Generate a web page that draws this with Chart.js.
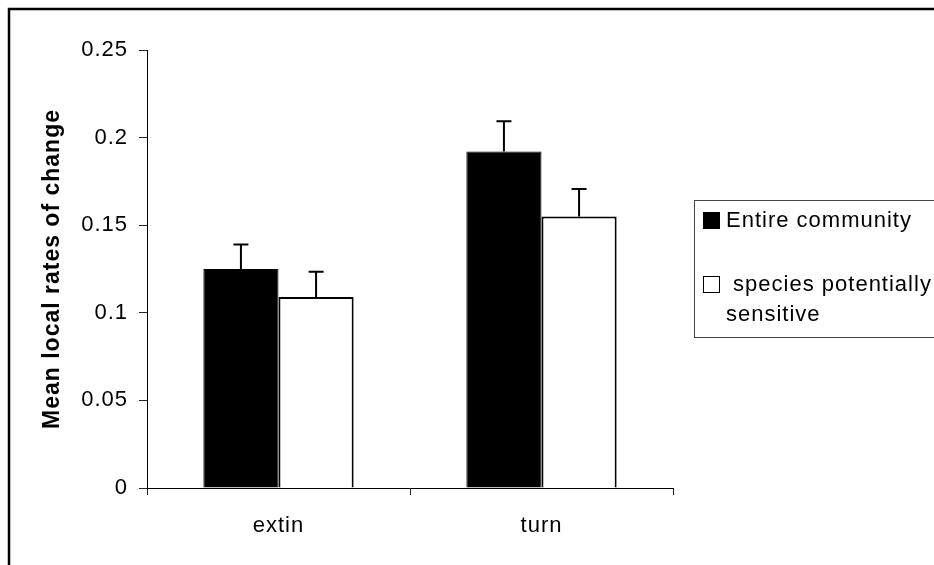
<!DOCTYPE html>
<html><head><meta charset="utf-8">
<script src="https://cdn.jsdelivr.net/npm/chart.js@4/dist/chart.umd.min.js"></script>
<style>html,body{margin:0;padding:0;background:#fff;overflow:hidden}</style>
</head><body>
<canvas id="c" width="934" height="565" style="display:block;width:934px;height:565px"></canvas>
<script>
// ---- data ----
const categories = ['extin', 'turn'];
const seriesNames = ['Entire community', ' species potentially sensitive'];
const entireCommunity = [0.125, 0.192];
const sensitiveSpecies = [0.109, 0.155];
const entireErrors = [0.014, 0.0173];
const sensitiveErrors = [0.0145, 0.0156];
const yTicks = [0, 0.05, 0.1, 0.15, 0.2, 0.25];
const yTitle = 'Mean local rates of change';

Chart.defaults.font.family = "'Liberation Sans', Arial, sans-serif";
Chart.defaults.color = '#000';

const LS = '1px';

const spacing = {
  id: 'spacing',
  beforeLayout(chart) { chart.ctx.letterSpacing = LS; },
  beforeDraw(chart) {
    const ctx = chart.ctx;
    ctx.letterSpacing = LS;
    ctx.save();
    ctx.fillStyle = '#fff';
    ctx.fillRect(0, 0, chart.width, chart.height);
    ctx.restore();
  }
};

const errorBars = {
  id: 'errorBars',
  afterDatasetsDraw(chart) {
    const ctx = chart.ctx, y = chart.scales.y;
    chart.data.datasets.forEach((ds, i) => {
      const meta = chart.getDatasetMeta(i);
      meta.data.forEach((bar, j) => {
        const v = ds.data[j], e = ds.errors[j];
        const yv = y.getPixelForValue(v), yt = y.getPixelForValue(v + e);
        ctx.save();
        ctx.strokeStyle = '#000';
        ctx.lineWidth = 2;
        ctx.beginPath();
        ctx.moveTo(bar.x, yv);
        ctx.lineTo(bar.x, yt);
        ctx.moveTo(bar.x - 7.5, yt);
        ctx.lineTo(bar.x + 7.5, yt);
        ctx.stroke();
        ctx.restore();
      });
    });
  }
};

const boxLegend = {
  id: 'boxLegend',
  afterDraw(chart, args, o) {
    const ctx = chart.ctx;
    ctx.save();
    ctx.letterSpacing = LS;
    // outer chart frame
    ctx.strokeStyle = '#000';
    ctx.lineWidth = 2.5;
    ctx.beginPath();
    ctx.moveTo(9, 565); ctx.lineTo(9, 9); ctx.lineTo(934, 9);
    ctx.stroke();
    // legend box
    ctx.lineWidth = 1;
    ctx.strokeStyle = '#444';
    ctx.strokeRect(o.x + 0.5, o.y + 0.5, 400, o.h);
    ctx.font = "22px 'Liberation Sans', Arial, sans-serif";
    ctx.textBaseline = 'middle';
    ctx.textAlign = 'left';
    chart.data.datasets.forEach((ds, i) => {
      const sy = o.itemY[i];
      ctx.fillStyle = ds.backgroundColor;
      ctx.fillRect(o.x + 9, sy - 8, 17, 17);
      ctx.strokeStyle = '#000';
      ctx.lineWidth = 1;
      ctx.strokeRect(o.x + 9.5, sy - 7.5, 16, 16);
      ctx.fillStyle = '#000';
      const words = ds.label.split(' ');
      const lines = [];
      let cur = words[0];
      for (let k = 1; k < words.length; k++) {
        const t = cur + ' ' + words[k];
        if (ctx.measureText(t).width > o.maxW && cur.trim() !== '') { lines.push(cur); cur = words[k]; }
        else cur = t;
      }
      lines.push(cur);
      lines.forEach((ln, k) => ctx.fillText(ln, o.x + 32, sy + 1 + k * 30));
    });
    ctx.restore();
  }
};

new Chart(document.getElementById('c'), {
  type: 'bar',
  data: {
    labels: categories,
    datasets: [
      { label: seriesNames[0], data: entireCommunity, errors: entireErrors,
        backgroundColor: '#000', borderColor: '#000', borderWidth: 1 },
      { label: seriesNames[1], data: sensitiveSpecies, errors: sensitiveErrors,
        backgroundColor: '#fff', borderColor: '#000', borderWidth: 2 }
    ]
  },
  options: {
    responsive: false,
    animation: false,
    devicePixelRatio: 1,
    datasets: { bar: { categoryPercentage: 2 / 3.5, barPercentage: 1 } },
    layout: { padding: { left: 0, right: 261, top: 50, bottom: 0 } },
    plugins: {
      legend: { display: false },
      tooltip: { enabled: false },
      boxLegend: { x: 694, y: 200, h: 137, itemY: [220, 284], maxW: 215 }
    },
    scales: {
      x: {
        afterFit(s) { s.height = 77; },
        border: { display: true, color: '#000', width: 1 },
        grid: { drawOnChartArea: false, drawTicks: true, tickLength: 7, offset: true, color: '#222' },
        ticks: { color: '#000', padding: 18, font: { size: 22 } }
      },
      y: {
        min: 0, max: 0.25,
        afterFit(s) { s.width = 147; },
        afterBuildTicks(s) { s.ticks = yTicks.map(v => ({ value: v })); },
        border: { display: true, color: '#000', width: 1 },
        grid: { drawOnChartArea: false, drawTicks: true, tickLength: 8, color: '#222' },
        ticks: { color: '#000', padding: 11, font: { size: 22 }, callback: v => String(v) },
        title: { display: true, text: yTitle, color: '#000',
                 font: { size: 23, weight: 'bold' }, padding: { top: 39, bottom: 0 } }
      }
    }
  },
  plugins: [spacing, errorBars, boxLegend]
});
</script>
</body></html>
